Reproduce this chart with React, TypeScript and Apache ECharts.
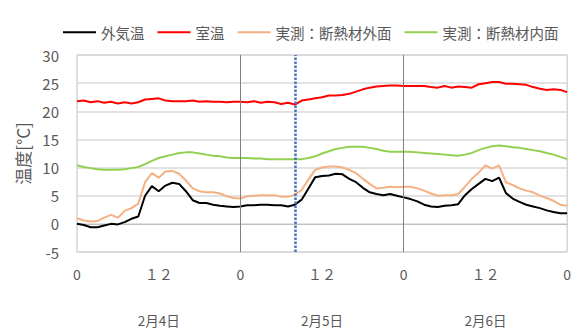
import React, { useEffect, useRef } from "react";
import * as echarts from "echarts";

const HOURS = [
  0, 1, 2, 3, 4, 5, 6, 7, 8, 9, 10, 11, 12, 13, 14, 15, 16, 17, 18, 19, 20, 21, 22, 23,
  24, 25, 26, 27, 28, 29, 30, 31, 32, 33, 34, 35, 36, 37, 38, 39, 40, 41, 42, 43, 44, 45, 46, 47,
  48, 49, 50, 51, 52, 53, 54, 55, 56, 57, 58, 59, 60, 61, 62, 63, 64, 65, 66, 67, 68, 69, 70, 71, 72,
];

const OUTDOOR = [
  0.0, -0.2, -0.6, -0.6, -0.3, 0.0, -0.1, 0.3, 0.9, 1.3, 5.0, 6.7, 5.8, 6.8, 7.3, 7.1, 5.8, 4.2, 3.7, 3.7, 3.4, 3.2, 3.1, 3.0,
  3.1, 3.3, 3.3, 3.4, 3.4, 3.3, 3.3, 3.1, 3.4, 4.3, 6.3, 8.3, 8.5, 8.6, 8.9, 8.8, 8.0, 7.4, 6.4, 5.6, 5.3, 5.1, 5.3, 5.0,
  4.7, 4.4, 4.0, 3.4, 3.1, 3.0, 3.2, 3.3, 3.5, 5.1, 6.2, 7.1, 8.0, 7.6, 8.2, 5.5, 4.5, 3.9, 3.4, 3.1, 2.8, 2.4, 2.1, 1.9, 1.9,
];

const ROOM = [
  21.8, 21.9, 21.6, 21.8, 21.5, 21.7, 21.4, 21.6, 21.4, 21.6, 22.1, 22.2, 22.3, 21.9, 21.8, 21.8, 21.8, 21.9, 21.7, 21.8, 21.7, 21.7, 21.6, 21.7,
  21.7, 21.6, 21.8, 21.5, 21.7, 21.6, 21.3, 21.5, 21.2, 21.9, 22.1, 22.3, 22.5, 22.8, 22.8, 22.9, 23.1, 23.5, 23.9, 24.2, 24.4, 24.5, 24.6, 24.6,
  24.5, 24.5, 24.5, 24.5, 24.3, 24.2, 24.5, 24.2, 24.4, 24.3, 24.2, 24.8, 25.0, 25.2, 25.2, 24.9, 24.9, 24.8, 24.7, 24.3, 24.0, 23.8, 23.9, 23.8, 23.4,
];

const OUTER_SURFACE = [
  1.0, 0.6, 0.4, 0.5, 1.1, 1.6, 1.1, 2.3, 2.8, 3.6, 7.4, 9.0, 8.2, 9.3, 9.4, 8.9, 7.7, 6.3, 5.8, 5.6, 5.6, 5.4, 4.9, 4.6,
  4.5, 4.9, 5.0, 5.1, 5.1, 5.1, 4.8, 4.8, 5.2, 6.0, 7.9, 9.6, 10.0, 10.2, 10.2, 10.0, 9.6, 9.0, 8.0, 7.1, 6.3, 6.4, 6.6, 6.5,
  6.6, 6.6, 6.3, 5.9, 5.4, 5.0, 5.1, 5.1, 5.3, 6.6, 8.0, 9.1, 10.4, 9.8, 10.4, 7.4, 6.9, 6.3, 5.9, 5.6, 5.0, 4.6, 4.1, 3.4, 3.2,
];

const INNER_SURFACE = [
  10.4, 10.1, 9.9, 9.7, 9.6, 9.6, 9.6, 9.7, 9.9, 10.1, 10.6, 11.2, 11.7, 12.0, 12.3, 12.6, 12.7, 12.7, 12.5, 12.3, 12.1, 12.0, 11.8, 11.7,
  11.7, 11.7, 11.6, 11.6, 11.5, 11.5, 11.5, 11.5, 11.5, 11.5, 11.7, 12.0, 12.5, 12.9, 13.3, 13.5, 13.7, 13.7, 13.7, 13.5, 13.3, 13.0, 12.8, 12.8,
  12.8, 12.8, 12.7, 12.6, 12.5, 12.4, 12.3, 12.2, 12.1, 12.3, 12.6, 13.1, 13.5, 13.8, 13.9, 13.8, 13.6, 13.5, 13.3, 13.1, 12.9, 12.6, 12.3, 11.9, 11.5,
];

const SERIES_NAMES = ["外気温", "室温", "実測：断熱材外面", "実測：断熱材内面"];
const X_TICK_LABELS = ["0", "１２", "0", "１２", "0", "１２", "0"];
const DATES = ["2月4日", "2月5日", "2月6日"];
const DAY_BOUNDARIES = [24, 48];
const MARKER_HOUR = 32;

const FONT = '"Noto Sans CJK JP", "Noto Sans", sans-serif';
const TEXT_COLOR = "#595959";

export default function App() {
  const ref = useRef<HTMLDivElement>(null);

  useEffect(() => {
    document.body.style.margin = "0";
    if (!ref.current) return;
    const chart = echarts.init(ref.current, undefined, { renderer: "svg" });
    const pairs = (vals: number[]) => HOURS.map((h, i) => [h, vals[i]]);
    const colors = ["#000000", "#ff0000", "#f4b183", "#92d050"];
    const values = [OUTDOOR, ROOM, OUTER_SURFACE, INNER_SURFACE];

    const series: any[] = SERIES_NAMES.map((name, i) => ({
      name,
      type: "line",
      xAxisIndex: 0,
      yAxisIndex: 0,
      data: pairs(values[i]),
      symbol: "none",
      showSymbol: false,
      lineStyle: { color: colors[i], width: 2 },
      itemStyle: { color: colors[i] },
    }));

    series[3].markLine = {
      silent: true,
      symbol: ["none", "none"],
      label: { show: false },
      data: [
        ...DAY_BOUNDARIES.map((d) => ({
          xAxis: d,
          lineStyle: { color: "#808080", width: 1, type: "solid" },
        })),
        {
          xAxis: MARKER_HOUR,
          lineStyle: { color: "#4472c4", width: 2.5, type: [2.5, 1.5] },
        },
      ],
    };

    chart.setOption({
      animation: false,
      textStyle: { fontFamily: FONT },
      legend: {
        data: SERIES_NAMES.map((name, i) => ({ name, itemStyle: { color: colors[i] } })),
        top: 20,
        left: 58,
        icon: "rect",
        itemWidth: 33,
        itemHeight: 2,
        itemGap: 13,
        textStyle: { fontSize: 14.5, color: TEXT_COLOR, fontFamily: FONT },
      },
      grid: {
        left: 77,
        right: 5,
        top: 55,
        bottom: 77,
        show: true,
        borderColor: "#bfbfbf",
        borderWidth: 1,
      },
      xAxis: [
        {
          type: "value",
          min: 0,
          max: 72,
          interval: 12,
          position: "bottom",
          axisLine: { show: true, lineStyle: { color: "#bfbfbf" } },
          axisTick: { show: false },
          splitLine: { show: false },
          axisLabel: {
            fontSize: 14,
            color: TEXT_COLOR,
            margin: 15,
            fontFamily: FONT,
            formatter: (v: number) => X_TICK_LABELS[Math.round(v / 12)] ?? "",
          },
        },
        {
          type: "category",
          data: DATES,
          position: "bottom",
          boundaryGap: true,
          axisLine: { show: false },
          axisTick: { show: false },
          splitLine: { show: false },
          axisLabel: { fontSize: 13.5, color: TEXT_COLOR, margin: 61, fontFamily: FONT },
        },
      ],
      yAxis: {
        type: "value",
        min: -5,
        max: 30,
        interval: 5,
        name: "温度[°C]",
        nameLocation: "middle",
        nameRotate: 90,
        nameGap: 46,
        nameTextStyle: { fontSize: 17, color: TEXT_COLOR, fontFamily: FONT },
        axisLine: { show: false },
        axisTick: { show: false },
        splitLine: { lineStyle: { color: "#d9d9d9", width: 1.5 } },
        axisLabel: { fontSize: 15, color: TEXT_COLOR, margin: 18, fontFamily: FONT },
      },
      series,
    });

    return () => chart.dispose();
  }, []);

  return <div ref={ref} style={{ width: 574, height: 329 }} />;
}
